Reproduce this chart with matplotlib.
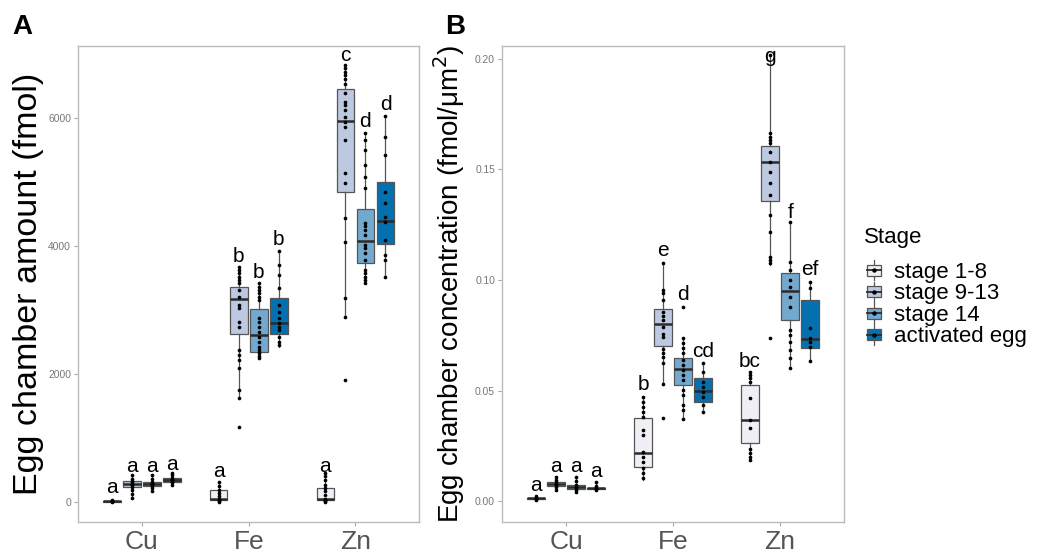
import matplotlib.pyplot as plt
from matplotlib.legend_handler import HandlerBase
from matplotlib.patches import Rectangle, Patch
from matplotlib.lines import Line2D

plt.rcParams['font.family'] = ['Liberation Sans', 'DejaVu Sans']

elements = ['Cu', 'Fe', 'Zn']
stages = ['stage 1-8', 'stage 9-13', 'stage 14', 'activated egg']
stage_colors = ['#f1eef6', '#bdc9e1', '#74a9cf', '#0570b0']

# ---- Panel A: egg chamber amount (fmol); rows = element, cols = stage
amt_whislo = [[0, 53, 172, 261], [0, 1620, 2240, 2422], [0, 2891, 3412, 3516]]
amt_q1 = [[0, 234, 245, 312], [27, 2620, 2334, 2615], [27, 4844, 3725, 4027]]
amt_med = [[5, 280, 270, 340], [42, 3167, 2604, 2797], [40, 5948, 4078, 4391]]
amt_q3 = [[10, 328, 312, 375], [183, 3360, 3008, 3177], [209, 6444, 4573, 4991]]
amt_whishi = [[20, 417, 417, 443], [312, 3672, 3412, 3917], [443, 6823, 5766, 6027]]

amt_pts_cu = [
    [0, 2, 5, 8, 10, 15, 20],
    [53, 120, 180, 234, 255, 280, 300, 328, 360, 417],
    [172, 210, 245, 260, 270, 290, 312, 350, 417],
    [261, 300, 312, 330, 340, 355, 375, 410, 443],
]
amt_pts_fe = [
    [0, 10, 27, 42, 80, 130, 183, 240, 312],
    [3672, 3620, 3568, 3516, 3464, 3411, 3307, 3200, 3073, 3021, 2813, 2734,
     2370, 2292, 2214, 2089, 1745, 1620, 1172],
    [3412, 3360, 3308, 3255, 3203, 3151, 2865, 2813, 2734, 2656, 2578, 2500,
     2422, 2370, 2318, 2281, 2250],
    [3917, 3698, 3542, 3334, 3073, 2969, 2865, 2787, 2734, 2682, 2578, 2500, 2448],
]
amt_pts_zn = [
    [0, 10, 20, 30, 45, 100, 160, 209, 260, 330, 400, 443],
    [6823, 6772, 6719, 6667, 6615, 6537, 6381, 6250, 6198, 6120, 6016, 5938,
     5859, 5651, 5131, 4975, 4428, 4063, 3178, 2891, 1902],
    [5766, 5652, 5495, 5261, 5078, 4897, 4359, 4308, 4245, 4167, 4011, 3959,
     3881, 3777, 3620, 3569, 3516, 3464, 3412],
    [6027, 5703, 5417, 4844, 4662, 4453, 4375, 4089, 3855, 3777, 3516],
]
amt_letters = [['a', 'a', 'a', 'a'], ['a', 'b', 'b', 'b'], ['a', 'c', 'd', 'd']]
amt_letter_y = [[131, 469, 469, 495], [391, 3750, 3500, 4011], [469, 6891, 5850, 6120]]

# ---- Panel B: egg chamber concentration (fmol/um^2)
conc_whislo = [[0.0005, 0.0051, 0.0043, 0.0050], [0.0096, 0.0530, 0.0370, 0.0405],
               [0.0186, 0.1068, 0.0601, 0.0635]]
conc_q1 = [[0.0010, 0.0070, 0.0055, 0.0055], [0.0156, 0.0702, 0.0525, 0.0450],
           [0.0262, 0.1357, 0.0819, 0.0691]]
conc_med = [[0.0013, 0.0076, 0.0064, 0.0058], [0.0217, 0.0801, 0.0596, 0.0500],
            [0.0367, 0.1535, 0.0952, 0.0732]]
conc_q3 = [[0.0016, 0.0088, 0.0072, 0.0062], [0.0375, 0.0868, 0.0646, 0.0556],
           [0.0525, 0.1606, 0.1030, 0.0910]]
conc_whishi = [[0.0022, 0.0111, 0.0111, 0.0085], [0.0472, 0.1078, 0.0736, 0.0626],
               [0.0585, 0.2017, 0.1264, 0.0992]]

conc_pts_cu = [
    [0.0005, 0.0010, 0.0013, 0.0016, 0.0022],
    [0.0051, 0.0065, 0.0072, 0.0078, 0.0085, 0.0095, 0.0111],
    [0.0043, 0.0052, 0.0060, 0.0066, 0.0072, 0.0090, 0.0111],
    [0.0050, 0.0055, 0.0058, 0.0062, 0.0070, 0.0085],
]
conc_pts_fe = [
    [0.0472, 0.0450, 0.0427, 0.0405, 0.0382, 0.0322, 0.0299, 0.0224, 0.0201,
     0.0179, 0.0149, 0.0126, 0.0104],
    [0.1078, 0.0955, 0.0940, 0.0910, 0.0857, 0.0837, 0.0819, 0.0786, 0.0756,
     0.0744, 0.0687, 0.0669, 0.0653, 0.0623, 0.0530, 0.0378],
    [0.0877, 0.0736, 0.0714, 0.0691, 0.0669, 0.0638, 0.0616, 0.0593, 0.0571,
     0.0548, 0.0503, 0.0480, 0.0435, 0.0412, 0.0370],
    [0.0626, 0.0585, 0.0540, 0.0518, 0.0495, 0.0472, 0.0435, 0.0405],
]
conc_pts_zn = [
    [0.0585, 0.0571, 0.0556, 0.0540, 0.0465, 0.0367, 0.0330, 0.0235, 0.0217,
     0.0201, 0.0186],
    [0.2017, 0.1663, 0.1648, 0.1633, 0.1618, 0.1580, 0.1535, 0.1490, 0.1437,
     0.1384, 0.1294, 0.1218, 0.1105, 0.1090, 0.1075, 0.0739],
    [0.1264, 0.1083, 0.1045, 0.1000, 0.0970, 0.0925, 0.0879, 0.0774, 0.0751,
     0.0721, 0.0684, 0.0646, 0.0601],
    [0.0992, 0.0962, 0.0782, 0.0736, 0.0721, 0.0698, 0.0635],
]
conc_letters = [['a', 'a', 'a', 'a'], ['b', 'e', 'd', 'cd'], ['bc', 'g', 'f', 'ef']]
conc_letter_y = [[0.0048, 0.0133, 0.0133, 0.0111], [0.0503, 0.1108, 0.0910, 0.0653],
                 [0.0608, 0.1987, 0.1279, 0.1023]]

DODGE = 0.1875
BOX_W = 0.165
EDGE = '#555555'


def draw_panel(ax, whislo, q1, med, q3, whishi, points, letters, letter_y):
    for gi in range(len(elements)):
        for si in range(len(stages)):
            pos = gi + 1 + (si - 1.5) * DODGE
            st = [dict(whislo=whislo[gi][si], q1=q1[gi][si], med=med[gi][si],
                       q3=q3[gi][si], whishi=whishi[gi][si])]
            ax.bxp(st, positions=[pos], widths=BOX_W, patch_artist=True,
                   showfliers=False, showcaps=False,
                   boxprops=dict(facecolor=stage_colors[si], edgecolor=EDGE, linewidth=0.9),
                   whiskerprops=dict(color=EDGE, linewidth=0.9),
                   medianprops=dict(color='#2b2b2b', linewidth=1.8),
                   manage_ticks=False)
            pts = points[gi][si]
            ax.scatter([pos] * len(pts), pts, s=7, color='black', zorder=4, linewidths=0)
            ax.text(pos, letter_y[gi][si], letters[gi][si], ha='center', va='baseline',
                    fontsize=15, color='black')
    ax.set_xlim(0.4, 3.6)
    ax.set_xticks([1, 2, 3])
    ax.set_xticklabels(elements, fontsize=19, color='#555555')
    ax.tick_params(axis='x', length=3, color='#aaaaaa', pad=3)
    ax.tick_params(axis='y', length=3, color='#aaaaaa', labelsize=7.4, labelcolor='#777777', pad=2)
    for sp in ax.spines.values():
        sp.set_color('#bbbbbb')
        sp.set_linewidth(1.0)


fig = plt.figure(figsize=(10.38, 5.58), dpi=100)
axA = fig.add_axes([0.0751, 0.0645, 0.329, 0.8538])
axB = fig.add_axes([0.4836, 0.0645, 0.3298, 0.8538])

draw_panel(axA, amt_whislo, amt_q1, amt_med, amt_q3, amt_whishi,
           [amt_pts_cu, amt_pts_fe, amt_pts_zn], amt_letters, amt_letter_y)
axA.set_ylim(-320, 7130)
axA.set_yticks([0, 2000, 4000, 6000])

draw_panel(axB, conc_whislo, conc_q1, conc_med, conc_q3, conc_whishi,
           [conc_pts_cu, conc_pts_fe, conc_pts_zn], conc_letters, conc_letter_y)
axB.set_ylim(-0.0094, 0.206)
axB.set_yticks([0.0, 0.05, 0.10, 0.15, 0.20])
axB.set_yticklabels(['0.00', '0.05', '0.10', '0.15', '0.20'])

fig.text(28.5 / 1038, 0.4914, 'Egg chamber amount (fmol)', rotation=90,
         ha='center', va='center', fontsize=24.5)
fig.text(449 / 1038, 0.4914, 'Egg chamber concentration (fmol/μm$^{2}$)', rotation=90,
         ha='center', va='center', fontsize=20)

fig.text(12 / 1038, 1 - 34 / 558, 'A', fontsize=20, fontweight='bold', va='baseline')
fig.text(445 / 1038, 1 - 34 / 558, 'B', fontsize=20, fontweight='bold', va='baseline')


class BoxKey(HandlerBase):
    def create_artists(self, legend, orig_handle, xdescent, ydescent, width, height,
                       fontsize, trans):
        fc = orig_handle.get_facecolor()
        cx = width / 2 - xdescent
        bw = width * 0.9
        y0 = -ydescent
        whisk = Line2D([cx, cx], [y0 - 0.15 * height, y0 + 1.15 * height], color=EDGE,
                       lw=0.9, transform=trans)
        box = Rectangle((cx - bw / 2, y0 + 0.15 * height), bw, 0.7 * height,
                        facecolor=fc, edgecolor=EDGE, lw=0.9, transform=trans)
        med = Line2D([cx - bw / 2, cx + bw / 2], [y0 + 0.5 * height] * 2, color='#2b2b2b',
                     lw=1.3, transform=trans)
        dot = Line2D([cx], [y0 + 0.5 * height], marker='o', ms=2.2, color='black',
                     lw=0, transform=trans)
        return [whisk, box, med, dot]


# legend title drawn separately to get the wider title gap seen in the original
fig.text(864 / 1038, 1 - 238 / 558, 'Stage', fontsize=16, ha='left', va='center')
handles = [Patch(facecolor=c) for c in stage_colors]
fig.legend(handles=handles, labels=stages, loc='upper left',
           bbox_to_anchor=(866 / 1038, 1 - 262 / 558), frameon=False,
           handler_map={Patch: BoxKey()}, fontsize=16,
           handlelength=0.7, handleheight=0.7, handletextpad=0.55,
           labelspacing=0.02, borderpad=0, borderaxespad=0)

fig.savefig('out.png', dpi=100)
